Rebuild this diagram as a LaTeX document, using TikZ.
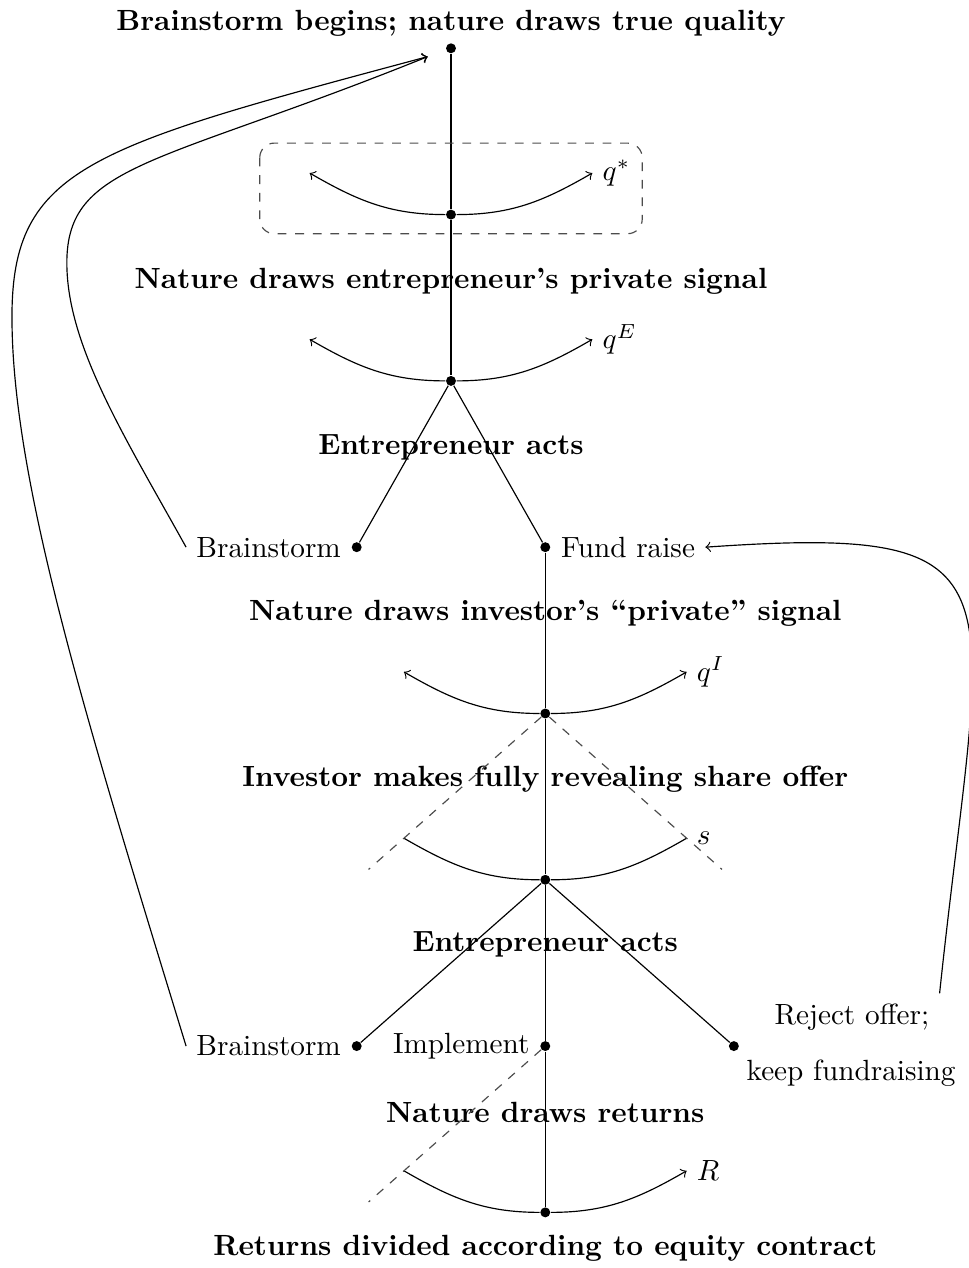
\documentclass[tikz,border=0pt]{standalone}
\usetikzlibrary{calc}
\begin{document}
\begin{tikzpicture}
\tikzstyle treenode=[circle, fill, inner sep=0pt, minimum size=3.4pt];
\tikzstyle stage=[font=\bfseries];
\tikzstyle guess=[dashed, black!70];
\useasboundingbox (-5.424,0.581) rectangle (6.218,-14.669);
% nodes of the tree
\node[treenode] (root) at (0,0) {};
\node[treenode] (qstar) at (0,-2) {};
\node[treenode] (qe) at (0,-4) {};
\node[treenode] (b1) at (-1.134,-6) {};
\node[treenode] (fund) at (1.134,-6) {};
\node[treenode] (qi) at (1.134,-8) {};
\node[treenode] (soff) at (1.134,-10) {};
\node[treenode] (b2) at (-1.134,-12) {};
\node[treenode] (impl) at (1.134,-12) {};
\node[treenode] (reject) at (3.402,-12) {};
\node[treenode] (ret) at (1.134,-14) {};
% stage titles
\node[stage] (t1) at (0,0.3) {Brainstorm begins; nature draws true quality};
\node[stage] (t2) at (0,-2.8) {Nature draws entrepreneur's private signal};
\node[stage] (t3) at (0,-4.8) {Entrepreneur acts};
\node[stage] (t4) at (1.134,-6.79) {Nature draws investor's ``private'' signal};
\node[stage] (t5) at (1.134,-8.79) {Investor makes fully revealing share offer};
\node[stage] (t6) at (1.134,-10.78) {Entrepreneur acts};
\node[stage] (t7) at (1.134,-12.8) {Nature draws returns};
\node[stage] (t8) at (1.134,-14.43) {Returns divided according to equity contract};
% action labels
\node[left] (b1txt) at (b1.west) {Brainstorm};
\node[right] (fundtxt) at (fund.east) {Fund raise};
\node[left] (b2txt) at (b2.west) {Brainstorm};
\node[left] (impltxt) at (impl.west) {Implement};
\node (rejtop) at ($(reject)+(1.42,0.35)$) {Reject offer;};
\node (rejbot) at ($(reject)+(1.41,-0.33)$) {keep fundraising};
% edges
\draw (root) -- (qstar) -- (qe);
\draw (qe) -- (b1);
\draw (qe) -- (fund);
\draw (fund) -- (qi) -- (soff);
\draw (soff) -- (b2);
\draw (soff) -- (impl);
\draw (soff) -- (reject);
\draw (impl) -- (ret);
% signal ranges
\coordinate (qsL) at (-1.7,-1.5);
\coordinate (qsR) at (1.7,-1.5);
\coordinate (qeL) at (-1.7,-3.5);
\coordinate (qeR) at (1.7,-3.5);
\coordinate (qiL) at (-0.566,-7.5);
\coordinate (qiR) at (2.834,-7.5);
\coordinate (sL) at (-0.566,-9.5);
\coordinate (sR) at (2.834,-9.5);
\coordinate (rL) at (-0.566,-13.5);
\coordinate (rR) at (2.834,-13.5);
\draw[->] (qstar) to[out=180,in=-30] (qsL);
\draw[->] (qstar) to[out=0,in=210] (qsR);
\draw[->] (qe) to[out=180,in=-30] (qeL);
\draw[->] (qe) to[out=0,in=210] (qeR);
\draw[->] (qi) to[out=180,in=-30] (qiL);
\draw[->] (qi) to[out=0,in=210] (qiR);
\draw (soff) to[out=180,in=-30] (sL);
\draw (soff) to[out=0,in=210] (sR);
\draw (ret) to[out=180,in=-30] (rL);
\draw[->] (ret) to[out=0,in=210] (rR);
\node[right] (qslab) at (qsR) {$q^*$};
\node[right] (qelab) at (qeR) {$q^E$};
\node[right] (qilab) at (qiR) {$q^I$};
\node[right] (slab) at (sR) {$s$};
\node[right] (rlab) at (rR) {$R$};
% dashed bounds
\coordinate (dl1) at (-0.991,-9.875);
\coordinate (dl2) at (3.259,-9.875);
\coordinate (dl3) at (-0.991,-13.875);
\draw[guess] (qi) -- (dl1);
\draw[guess] (qi) -- (dl2);
\draw[guess] (impl) -- (dl3);
\draw[guess, rounded corners=5pt] (-2.3,-1.14) rectangle (2.3,-2.23);
% loops back
\coordinate (back) at (-0.28,-0.1);
\coordinate (turnA) at (-4.62,-2.58);
\coordinate (turnB) at (-5.28,-3.23);
\draw[->] (b1txt.west) .. controls +(119:1.5) and +(0,-1) .. (turnA)
  .. controls +(0,1.2) and +(202:3.5) .. (back);
\draw[->] (b2txt.west) .. controls +(107:4) and +(0,-2) .. (turnB)
  .. controls +(0,1.8) and +(195:4.2) .. (back);
\draw[->] (rejtop.north east) .. controls +(84:5) and +(4:4) .. (fundtxt.east);
\end{tikzpicture}
\end{document}
